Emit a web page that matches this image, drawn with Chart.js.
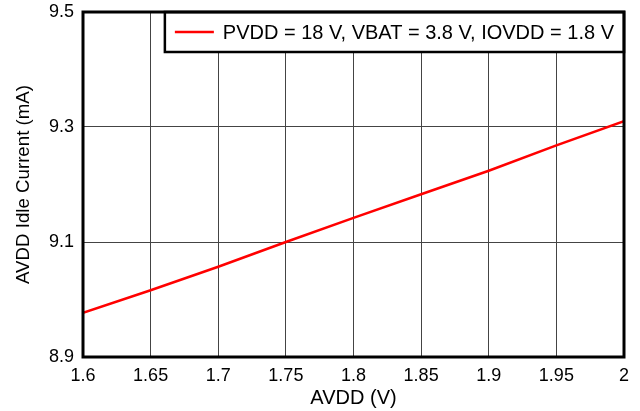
<!DOCTYPE html>
<html>
<head>
<meta charset="utf-8">
<script src="https://cdn.jsdelivr.net/npm/chart.js@4"></script>
<style>
  html, body { margin: 0; padding: 0; background: #fff; }
  #wrap { width: 640px; height: 411px; position: relative; }
</style>
</head>
<body>
<div id="wrap"><canvas id="chart"></canvas></div>
<script>
// ─── DATA ───────────────────────────────────────────────────────────────
var avddVolts = [1.6, 1.65, 1.7, 1.75, 1.8, 1.85, 1.9, 1.95, 2.0];
var idleCurrent = [8.977, 9.016, 9.057, 9.100, 9.142, 9.183, 9.224, 9.268, 9.310];
var xTicks = [1.6, 1.65, 1.7, 1.75, 1.8, 1.85, 1.9, 1.95, 2];
var yTicks = [8.9, 9.1, 9.3, 9.5];
var seriesLabel = 'PVDD = 18 V, VBAT = 3.8 V, IOVDD = 1.8 V';

var FONT = "'Liberation Sans', Arial, sans-serif";

// ─── FRAME + LEGEND BOX ─────────────────────────────────────────────────
var framePlugin = {
    id: 'frame',
    afterDatasetsDraw: function (chart) {
        var ctx = chart.ctx;
        var a = chart.chartArea;
        var ds = chart.data.datasets[0];
        ctx.save();

        // legend box, top-right inside the plot
        ctx.font = '20px ' + FONT;
        var tw = ctx.measureText(ds.label).width;
        var right = a.right, top = a.top, bottom = a.top + 40;
        var textX = right - 10 - tw;
        var sampleEnd = textX - 9, sampleStart = sampleEnd - 39;
        var left = sampleStart - 10;
        var midY = (top + bottom) / 2;
        ctx.fillStyle = '#fff';
        ctx.fillRect(left, top, right - left, bottom - top);
        ctx.lineWidth = 2.5;
        ctx.strokeStyle = '#000';
        ctx.strokeRect(left, top, right - left, bottom - top);
        ctx.beginPath();
        ctx.moveTo(sampleStart, midY);
        ctx.lineTo(sampleEnd, midY);
        ctx.strokeStyle = ds.borderColor;
        ctx.lineWidth = 2.5;
        ctx.stroke();
        ctx.fillStyle = '#000';
        ctx.textBaseline = 'middle';
        ctx.textAlign = 'left';
        ctx.fillText(ds.label, textX, midY + 1);

        // thick plot frame
        ctx.lineWidth = 3;
        ctx.strokeStyle = '#000';
        ctx.strokeRect(a.left, a.top, a.right - a.left, a.bottom - a.top);
        ctx.restore();
    }
};

new Chart(document.getElementById('chart'), {
    type: 'line',
    data: {
        datasets: [{
            label: seriesLabel,
            data: avddVolts.map(function (v, i) { return { x: v, y: idleCurrent[i] }; }),
            borderColor: '#ff0000',
            borderWidth: 2.5,
            pointRadius: 0,
            tension: 0,
            fill: false
        }]
    },
    options: {
        responsive: true,
        maintainAspectRatio: false,
        animation: false,
        layout: { padding: { left: 0, right: 16, top: 12, bottom: 0 } },
        plugins: {
            legend: { display: false },
            tooltip: { enabled: false }
        },
        scales: {
            x: {
                type: 'linear',
                min: 1.6,
                max: 2,
                afterBuildTicks: function (axis) {
                    axis.ticks = xTicks.map(function (v) { return { value: v }; });
                },
                afterFit: function (axis) {
                    axis.height = 54;
                    axis.paddingLeft = 0;
                    axis.paddingRight = 0;
                },
                grid: { color: '#444', lineWidth: 1, drawTicks: false },
                border: { display: false },
                ticks: {
                    color: '#000',
                    font: { family: FONT, size: 18 },
                    padding: 8,
                    maxRotation: 0,
                    autoSkip: false,
                    callback: function (v) { return String(+Number(v).toFixed(2)); }
                },
                title: {
                    display: true,
                    text: 'AVDD (V)',
                    color: '#000',
                    font: { family: FONT, size: 20 },
                    padding: { top: 0, bottom: 1 }
                }
            },
            y: {
                type: 'linear',
                min: 8.9,
                max: 9.5,
                afterBuildTicks: function (axis) {
                    axis.ticks = yTicks.map(function (v) { return { value: v }; });
                },
                afterFit: function (axis) {
                    axis.width = 83;
                    axis.paddingTop = 0;
                    axis.paddingBottom = 0;
                },
                grid: { color: '#444', lineWidth: 1, drawTicks: false },
                border: { display: false },
                ticks: {
                    color: '#000',
                    font: { family: FONT, size: 18 },
                    padding: 9,
                    autoSkip: false,
                    callback: function (v) { return Number(v).toFixed(1); }
                },
                title: {
                    display: true,
                    text: 'AVDD Idle Current (mA)',
                    color: '#000',
                    font: { family: FONT, size: 18.7 },
                    padding: { top: 13, bottom: 0 }
                }
            }
        }
    },
    plugins: [framePlugin]
});
</script>
</body>
</html>
